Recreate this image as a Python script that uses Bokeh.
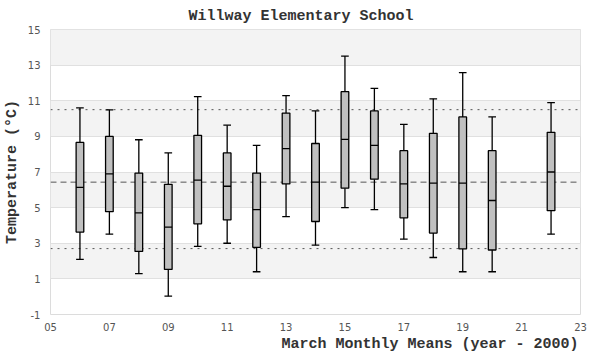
from bokeh.plotting import figure
from bokeh.models import Range1d, FixedTicker, BoxAnnotation, Span, Title, ColumnDataSource
from bokeh.embed import file_html
from bokeh.resources import INLINE

# ---- data ----
years = [6, 7, 8, 9, 10, 11, 12, 13, 14, 15, 16, 17, 18, 19, 20, 22]
whisker_low = [2.09, 3.51, 1.29, 0.03, 2.83, 3.00, 1.40, 4.49, 2.89, 5.00, 4.89, 3.23, 2.20, 1.40, 1.40, 3.51]
q1 = [3.63, 4.77, 2.54, 1.53, 4.09, 4.31, 2.77, 6.33, 4.22, 6.09, 6.60, 4.43, 3.57, 2.68, 2.62, 4.83]
median = [6.14, 6.90, 4.71, 3.91, 6.54, 6.20, 4.89, 8.31, 6.43, 8.83, 8.50, 6.33, 6.37, 6.37, 5.40, 7.00]
q3 = [8.66, 9.00, 6.94, 6.31, 9.06, 8.07, 6.94, 10.31, 8.60, 11.51, 10.43, 8.20, 9.17, 10.09, 8.20, 9.23]
whisker_high = [10.60, 10.49, 8.81, 8.07, 11.23, 9.63, 8.49, 11.29, 10.43, 13.51, 11.69, 9.67, 11.11, 12.58, 10.09, 10.89]

mean_line = 6.43
upper_line = 10.5
lower_line = 2.7

x_ticks = [5, 7, 9, 11, 13, 15, 17, 19, 21, 23]
x_tick_labels = ["05", "07", "09", "11", "13", "15", "17", "19", "21", "23"]
y_ticks = [-1, 1, 3, 5, 7, 9, 11, 13, 15]
y_tick_labels = ["-1", "1", "3", "5", "7", "9", "11", "13", "15"]

BOX_W = 0.26
MONO = "Liberation Mono"
SANS = "DejaVu Sans"

src = ColumnDataSource(dict(
    x=years,
    x0=[x - BOX_W / 2 for x in years],
    x1=[x + BOX_W / 2 for x in years],
    wl=whisker_low, q1=q1, med=median, q3=q3, wh=whisker_high,
))

p = figure(width=592, height=352, x_range=Range1d(5, 23), y_range=Range1d(-1, 15),
           output_backend="svg", toolbar_location=None,
           min_border_left=10, min_border_right=12, min_border_top=22, min_border_bottom=0)

p.title.text = "Willway Elementary School"
p.title.align = "left"
p.title.offset = 138
p.title.text_font = MONO
p.title.text_font_size = "15px"
p.title.text_font_style = "bold"
p.title.text_color = "#333333"

p.background_fill_color = "white"
p.border_fill_color = "white"
p.outline_line_color = "#dcdcdc"
p.outline_line_width = 1

# bands
for lo in y_ticks[1::2]:
    p.add_layout(BoxAnnotation(bottom=lo, top=lo + 2, fill_color="#f3f3f3", fill_alpha=1,
                               line_color=None, level="image"))

p.xgrid.grid_line_color = None
p.ygrid.ticker = FixedTicker(ticks=y_ticks)
p.ygrid.grid_line_color = "#e0e0e0"
p.ygrid.grid_line_width = 1

for ax in (p.xaxis[0], p.yaxis[0]):
    ax.axis_line_color = None
    ax.major_tick_line_color = None
    ax.minor_tick_line_color = None
    ax.major_tick_out = 0
    ax.major_tick_in = 0
    ax.minor_tick_out = 0
    ax.minor_tick_in = 0
    ax.major_label_text_font = SANS
    ax.major_label_text_font_size = "10px"
    ax.major_label_text_color = "#555555"

p.xaxis.ticker = FixedTicker(ticks=x_ticks)
p.xaxis.major_label_overrides = {t: l for t, l in zip(x_ticks, x_tick_labels)}
p.xaxis.major_label_standoff = 8
p.yaxis.ticker = FixedTicker(ticks=y_ticks)
p.yaxis.major_label_overrides = {t: l for t, l in zip(y_ticks, y_tick_labels)}
p.yaxis.major_label_standoff = 10

p.yaxis.axis_label = "Temperature (°C)"
p.yaxis.axis_label_text_font = MONO
p.yaxis.axis_label_text_font_size = "15px"
p.yaxis.axis_label_text_font_style = "bold"
p.yaxis.axis_label_text_color = "#333333"
p.yaxis.axis_label_standoff = 4

xt = Title(text="March Monthly Means (year - 2000)", align="right", text_font=MONO,
           text_font_size="15px", text_font_style="bold", text_color="#333333",
           standoff=0, offset=2)
p.add_layout(xt, "below")

# reference lines
p.add_layout(Span(location=mean_line, dimension="width", line_color="#555555",
                  line_dash="6 4", line_width=1, level="underlay"))
for loc in (upper_line, lower_line):
    p.add_layout(Span(location=loc, dimension="width", line_color="#555555",
                      line_dash="2 5", line_width=1, level="underlay"))

# whiskers
p.segment(x0="x", y0="q3", x1="x", y1="wh", source=src, line_color="black", line_width=1.3)
p.segment(x0="x", y0="wl", x1="x", y1="q1", source=src, line_color="black", line_width=1.3)
p.segment(x0="x0", y0="wh", x1="x1", y1="wh", source=src, line_color="black", line_width=1.3)
p.segment(x0="x0", y0="wl", x1="x1", y1="wl", source=src, line_color="black", line_width=1.3)
# boxes
p.vbar(x="x", width=BOX_W, bottom="q1", top="q3", source=src, fill_color="#c0c0c0",
       line_color="black", line_width=1.3)
p.segment(x0="x0", y0="med", x1="x1", y1="med", source=src, line_color="black", line_width=1.3)

open("out.html", "w").write(file_html(p, INLINE))
